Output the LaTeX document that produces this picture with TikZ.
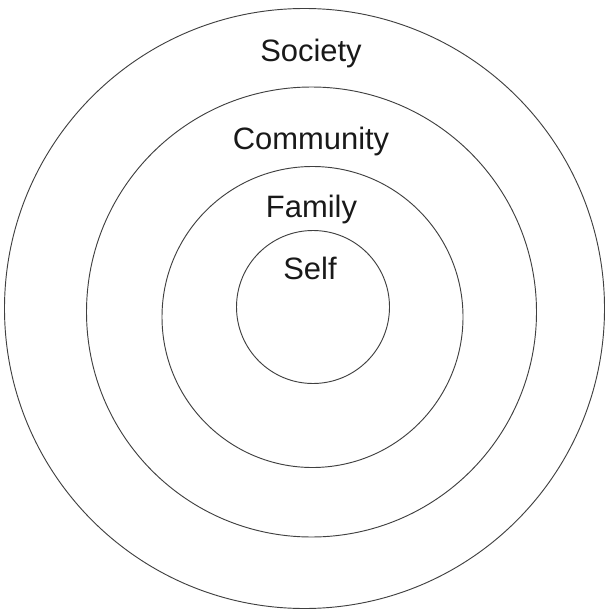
\documentclass[tikz,border=0pt]{standalone}
\usepackage{fontspec}
\setmainfont{Liberation Sans}
\begin{document}
\begin{tikzpicture}[x=0.75pt,y=-0.75pt,
  ring/.style={draw=black!75, line width=0.7pt, circle, inner sep=0pt, outer sep=0pt},
  lbl/.style={anchor=base, inner sep=0pt, font=\fontsize{23.2pt}{28pt}\selectfont, text=black!90}]
\useasboundingbox (0,0) rectangle (604,613);
\node[ring, minimum size=450pt] (society) at (304.5,308.5) {};
\node[ring, minimum size=337.5pt] (community) at (311.5,312) {};
\node[ring, minimum size=225.75pt] (family) at (312.5,317) {};
\node[ring, minimum size=114.75pt] (self) at (313,307) {};
\node[lbl] (tsociety) at (311,62) {Society};
\node[lbl] (tcommunity) at (311,150) {Community};
\node[lbl] (tfamily) at (311.5,217) {Family};
\node[lbl] (tself) at (310,279) {Self};
\end{tikzpicture}
\end{document}
